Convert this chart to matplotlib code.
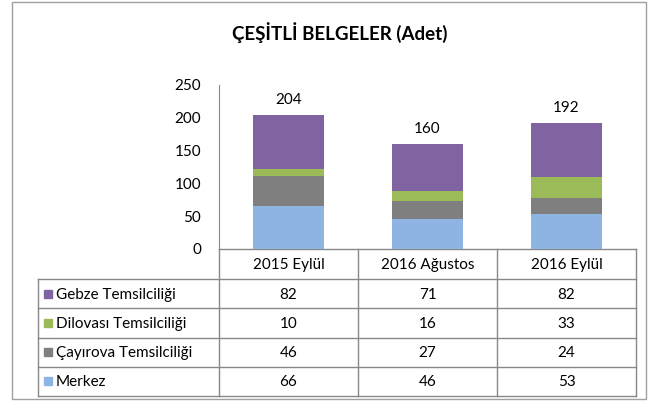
import matplotlib
matplotlib.use("Agg")
import matplotlib.pyplot as plt
import numpy as np

plt.rcParams['font.family'] = ['Lato', 'DejaVu Sans']

# ===============================
# data
# ===============================
donemler = ["2015 Eylül", "2016 Ağustos", "2016 Eylül"]
seriler = ["Gebze Temsilciliği", "Dilovası Temsilciliği", "Çayırova Temsilciliği", "Merkez"]
merkez = [66, 46, 53]
cayirova = [46, 27, 24]
dilovasi = [10, 16, 33]
gebze = [82, 71, 82]
renkler = {"Merkez": "#8EB4E3", "Çayırova Temsilciliği": "#7F7F7F",
           "Dilovası Temsilciliği": "#9BBB59", "Gebze Temsilciliği": "#8064A2"}
degerler = {"Merkez": merkez, "Çayırova Temsilciliği": cayirova,
            "Dilovası Temsilciliği": dilovasi, "Gebze Temsilciliği": gebze}

W, H = 657, 401
fig = plt.figure(figsize=(W / 100, H / 100), dpi=100)

def px(x0, y0, x1, y1):
    return [x0 / W, 1 - y1 / H, (x1 - x0) / W, (y1 - y0) / H]

# overlay for frame / table (pixel coords)
ov = fig.add_axes([0, 0, 1, 1])
ov.set_xlim(0, W)
ov.set_ylim(H, 0)
ov.axis("off")

fs = 11

# ===============================
# bars
# ===============================
ax = fig.add_axes(px(219, 85, 636, 249))
x = np.arange(len(donemler))
alt = np.zeros(len(donemler))
for s in ["Merkez", "Çayırova Temsilciliği", "Dilovası Temsilciliği", "Gebze Temsilciliği"]:
    ax.bar(x, degerler[s], bottom=alt, width=0.51, color=renkler[s])
    alt += np.array(degerler[s])

for i, t in enumerate(alt):
    ax.annotate(f"{int(t)}", (x[i], t), xytext=(0, 6), textcoords="offset points",
                ha="center", va="bottom", fontsize=fs)

ax.set_xlim(-0.5, len(donemler) - 0.5)
ax.set_ylim(0, 250)
ax.set_yticks(range(0, 251, 50))
ax.set_xticks([])
ax.tick_params(axis="y", length=0, labelsize=fs, pad=13)
for sp in ["top", "right", "bottom"]:
    ax.spines[sp].set_visible(False)
ax.spines["left"].set_color("#888888")
ax.patch.set_alpha(0)

# ===============================
# table
# ===============================
lc = "#888888"
col_x = [219 + k * (636 - 219) / 3 for k in range(4)]
top, head_bot, bot = 249, 279, 396
rh = (bot - head_bot) / 4
left = 38

ov.plot([col_x[0], col_x[-1]], [top, top], color=lc, lw=1)
for cx in col_x:
    ov.plot([cx, cx], [top, bot], color=lc, lw=1)
ov.plot([left, left], [head_bot, bot], color=lc, lw=1)
for r in range(5):
    y = head_bot + r * rh
    ov.plot([left, col_x[-1]], [y, y], color=lc, lw=1)

for k, d in enumerate(donemler):
    ov.text((col_x[k] + col_x[k + 1]) / 2, (top + head_bot) / 2 + 1, d,
            ha="center", va="center", fontsize=fs)

for r, s in enumerate(seriler):
    yc = head_bot + (r + 0.5) * rh
    ov.add_patch(plt.Rectangle((44, yc - 4), 8, 8, color=renkler[s]))
    ov.text(56, yc + 1, s, ha="left", va="center", fontsize=fs)
    for k in range(len(donemler)):
        ov.text((col_x[k] + col_x[k + 1]) / 2, yc + 1, str(degerler[s][k]),
                ha="center", va="center", fontsize=fs)

# outer frame + title
ov.add_patch(plt.Rectangle((12, 2), 634, 397, fill=False, edgecolor="#A0A0A0", lw=1))
ov.text(340, 33, "ÇEŞİTLİ BELGELER (Adet)", ha="center", va="center",
        fontsize=13.5, fontweight="bold")

fig.savefig("out.png", dpi=100)
